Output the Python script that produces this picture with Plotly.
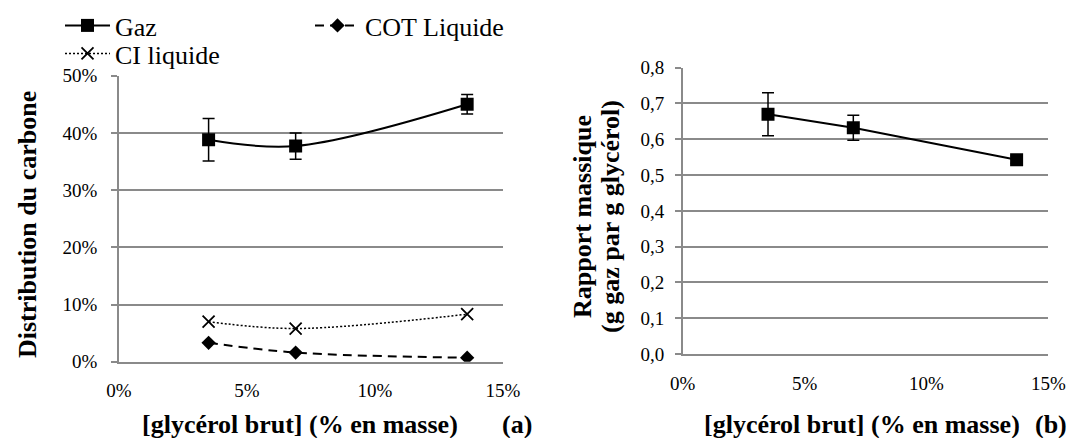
import plotly.graph_objects as go

# ---- data ----
conc_a = [3.5, 6.9, 13.6]          # [glycérol brut] (% en masse), panel (a)
gaz_dist = [38.8, 37.7, 45.0]      # Gaz (% of carbon)
gaz_dist_err = [3.7, 2.3, 1.7]
cot_liquide = [3.3, 1.6, 0.7]      # COT Liquide
ci_liquide = [7.0, 5.8, 8.3]       # CI liquide

conc_b = [3.5, 7.0, 13.7]          # panel (b)
rapport = [0.670, 0.632, 0.543]    # g gaz par g glycérol
rapport_err = [0.060, 0.035, 0.010]

x_ticks = [0, 5, 10, 15]
x_ticklabels = ["0%", "5%", "10%", "15%"]

W, H = 1068, 438
FONT = "Liberation Serif, Times New Roman, Tinos, serif"
GRID = "#8a8a8a"


def px(x):
    return x / W


def py(y):
    return 1 - y / H


fig = go.Figure()

# Panel (a)
fig.add_trace(go.Scatter(
    x=conc_a, y=gaz_dist, name="Gaz", mode="lines+markers",
    line=dict(color="black", width=2, shape="spline"),
    marker=dict(symbol="square", size=13, color="black"),
    error_y=dict(type="data", array=gaz_dist_err, visible=True,
                 color="black", thickness=1.5, width=6),
    xaxis="x", yaxis="y", legend="legend",
))
fig.add_trace(go.Scatter(
    x=conc_a, y=cot_liquide, name="COT Liquide", mode="lines+markers",
    line=dict(color="black", width=2, dash="9px,6px", shape="spline"),
    marker=dict(symbol="diamond", size=11, color="black"),
    xaxis="x", yaxis="y", legend="legend2",
))
fig.add_trace(go.Scatter(
    x=conc_a, y=ci_liquide, name="CI liquide", mode="lines+markers",
    line=dict(color="black", width=1.5, dash="2px,2px", shape="spline"),
    marker=dict(symbol="x-thin", size=12, color="black",
                line=dict(color="black", width=1.8)),
    xaxis="x", yaxis="y", legend="legend3",
))

# Panel (b)
fig.add_trace(go.Scatter(
    x=conc_b, y=rapport, name="Gaz", mode="lines+markers", showlegend=False,
    line=dict(color="black", width=2),
    marker=dict(symbol="square", size=13, color="black"),
    error_y=dict(type="data", array=rapport_err, visible=True,
                 color="black", thickness=1.5, width=6),
    xaxis="x2", yaxis="y2",
))

tickfont = dict(family=FONT, size=19, color="black")
common_x = dict(range=[0, 15], tickmode="array", tickvals=x_ticks,
                ticktext=x_ticklabels,
                showgrid=False, zeroline=False, showline=True,
                linecolor=GRID, linewidth=1.5, ticks="",
                tickfont=tickfont, fixedrange=True)
common_y = dict(showgrid=True, gridcolor=GRID, gridwidth=1.5, zeroline=False,
                showline=True, linecolor=GRID, linewidth=1.5,
                ticks="outside", ticklen=6, tickcolor=GRID, tickwidth=1.5,
                tickfont=tickfont, fixedrange=True)

legend_common = dict(font=dict(family=FONT, size=26, color="black"),
                     bgcolor="rgba(0,0,0,0)", borderwidth=0, itemwidth=45,
                     xanchor="left", yanchor="top", tracegroupgap=0)

fig.update_layout(
    width=W, height=H,
    margin=dict(l=0, r=0, t=0, b=0, autoexpand=False),
    paper_bgcolor="white", plot_bgcolor="white",
    separators=", ",
    font=dict(family=FONT, color="black"),
    xaxis=dict(domain=[px(119), px(503)], anchor="y", ticklabelstandoff=11,
               **common_x),
    yaxis=dict(domain=[py(361.7), py(75.7)], anchor="x", range=[0, 50],
               dtick=10, ticksuffix="%", ticklabelstandoff=10, **common_y),
    xaxis2=dict(domain=[px(682.7), px(1048.3)], anchor="y2",
                ticklabelstandoff=11, **common_x),
    yaxis2=dict(domain=[py(354), py(67.7)], anchor="x2", range=[0, 0.8],
                dtick=0.1, tickformat=".1f", ticklabelstandoff=7, **common_y),
    legend=dict(x=px(60), y=py(2), **legend_common),
    legend2=dict(x=px(310), y=py(2), **legend_common),
    legend3=dict(x=px(60), y=py(30), **legend_common),
    showlegend=True,
)

title_font = dict(family=FONT, size=26, color="black")
annotations = [
    dict(text="<b>Distribution du carbone</b>", x=px(27), y=py(225),
         textangle=-90),
    dict(text="<b>Rapport massique</b>", x=px(582), y=py(217), textangle=-90),
    dict(text="<b>(g gaz par g glycérol)</b>", x=px(610), y=py(217),
         textangle=-90),
    dict(text="<b>[glycérol brut] (% en masse)</b>", x=px(300), y=py(424)),
    dict(text="<b>(a)</b>", x=px(517), y=py(424)),
    dict(text="<b>[glycérol brut] (% en masse)</b>", x=px(862), y=py(424)),
    dict(text="<b>(b)</b>", x=px(1051), y=py(424)),
]
for a in annotations:
    fig.add_annotation(xref="paper", yref="paper", showarrow=False,
                       xanchor="center", yanchor="middle", font=title_font, **a)

fig.write_html(
    "out.html",
    config={"displayModeBar": False},
    post_script="document.body.style.margin='0px';"
                "document.body.style.overflow='hidden';",
)
